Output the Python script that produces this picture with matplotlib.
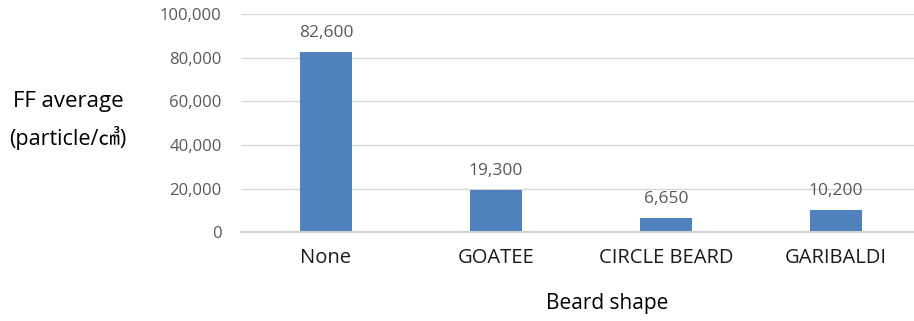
import matplotlib
matplotlib.use("Agg")
import matplotlib.pyplot as plt

plt.rcParams['font.family'] = ['Open Sans', 'Noto Sans CJK KR', 'DejaVu Sans']

# beard shape categories and FF average values
shapes = ["None", "GOATEE", "CIRCLE BEARD", "GARIBALDI"]
ff_avg = [82600, 19300, 6650, 10200]
y_ticks = [0, 20000, 40000, 60000, 80000, 100000]

fig = plt.figure(figsize=(9.14, 3.21), dpi=100)
W, H = 914, 321
# axes box in pixels (right side runs off the picture like the original)
left, right, top, bottom = 241, 921, 14, 232.3
ax = fig.add_axes([left / W, (H - bottom) / H, (right - left) / W, (bottom - top) / H])

x = range(len(shapes))
bars = ax.bar(x, ff_avg, width=0.31, color="#4f81bd", zorder=3)

ax.set_xlim(-0.5, len(shapes) - 0.5)
ax.set_ylim(0, 100000)
ax.set_yticks(y_ticks)
ax.set_yticklabels([f"{v:,}" for v in y_ticks], color="#595959", fontsize=12)
ax.set_xticks(list(x))
ax.set_xticklabels(shapes, fontsize=14.5, color="#1a1a1a")
ax.tick_params(axis="both", length=0)
ax.tick_params(axis="y", pad=14)
ax.tick_params(axis="x", pad=11)

ax.grid(axis="y", color="#d9d9d9", linewidth=1, zorder=0)
for s in ["top", "right", "left"]:
    ax.spines[s].set_visible(False)
ax.spines["bottom"].set_color("#d0d0d0")
ax.spines["bottom"].set_linewidth(1.5)
ax.spines["bottom"].set_zorder(4)

# value labels above bars
for b, v in zip(bars, ff_avg):
    ax.annotate(f"{v:,}", (b.get_x() + b.get_width() / 2, v),
                xytext=(0, 8), textcoords="offset points",
                ha="center", va="bottom", fontsize=12.5, color="#595959")

fig.text(68 / W, 1 - 102 / H, "FF average", ha="center", va="center", fontsize=16, color="black")
fig.text(68 / W, 1 - 138 / H, "(particle/㎤)", ha="center", va="center", fontsize=15.5, color="black")
fig.text(607 / W, 1 - 303 / H, "Beard shape", ha="center", va="center", fontsize=15, color="black")

fig.savefig("out.png", dpi=100)
